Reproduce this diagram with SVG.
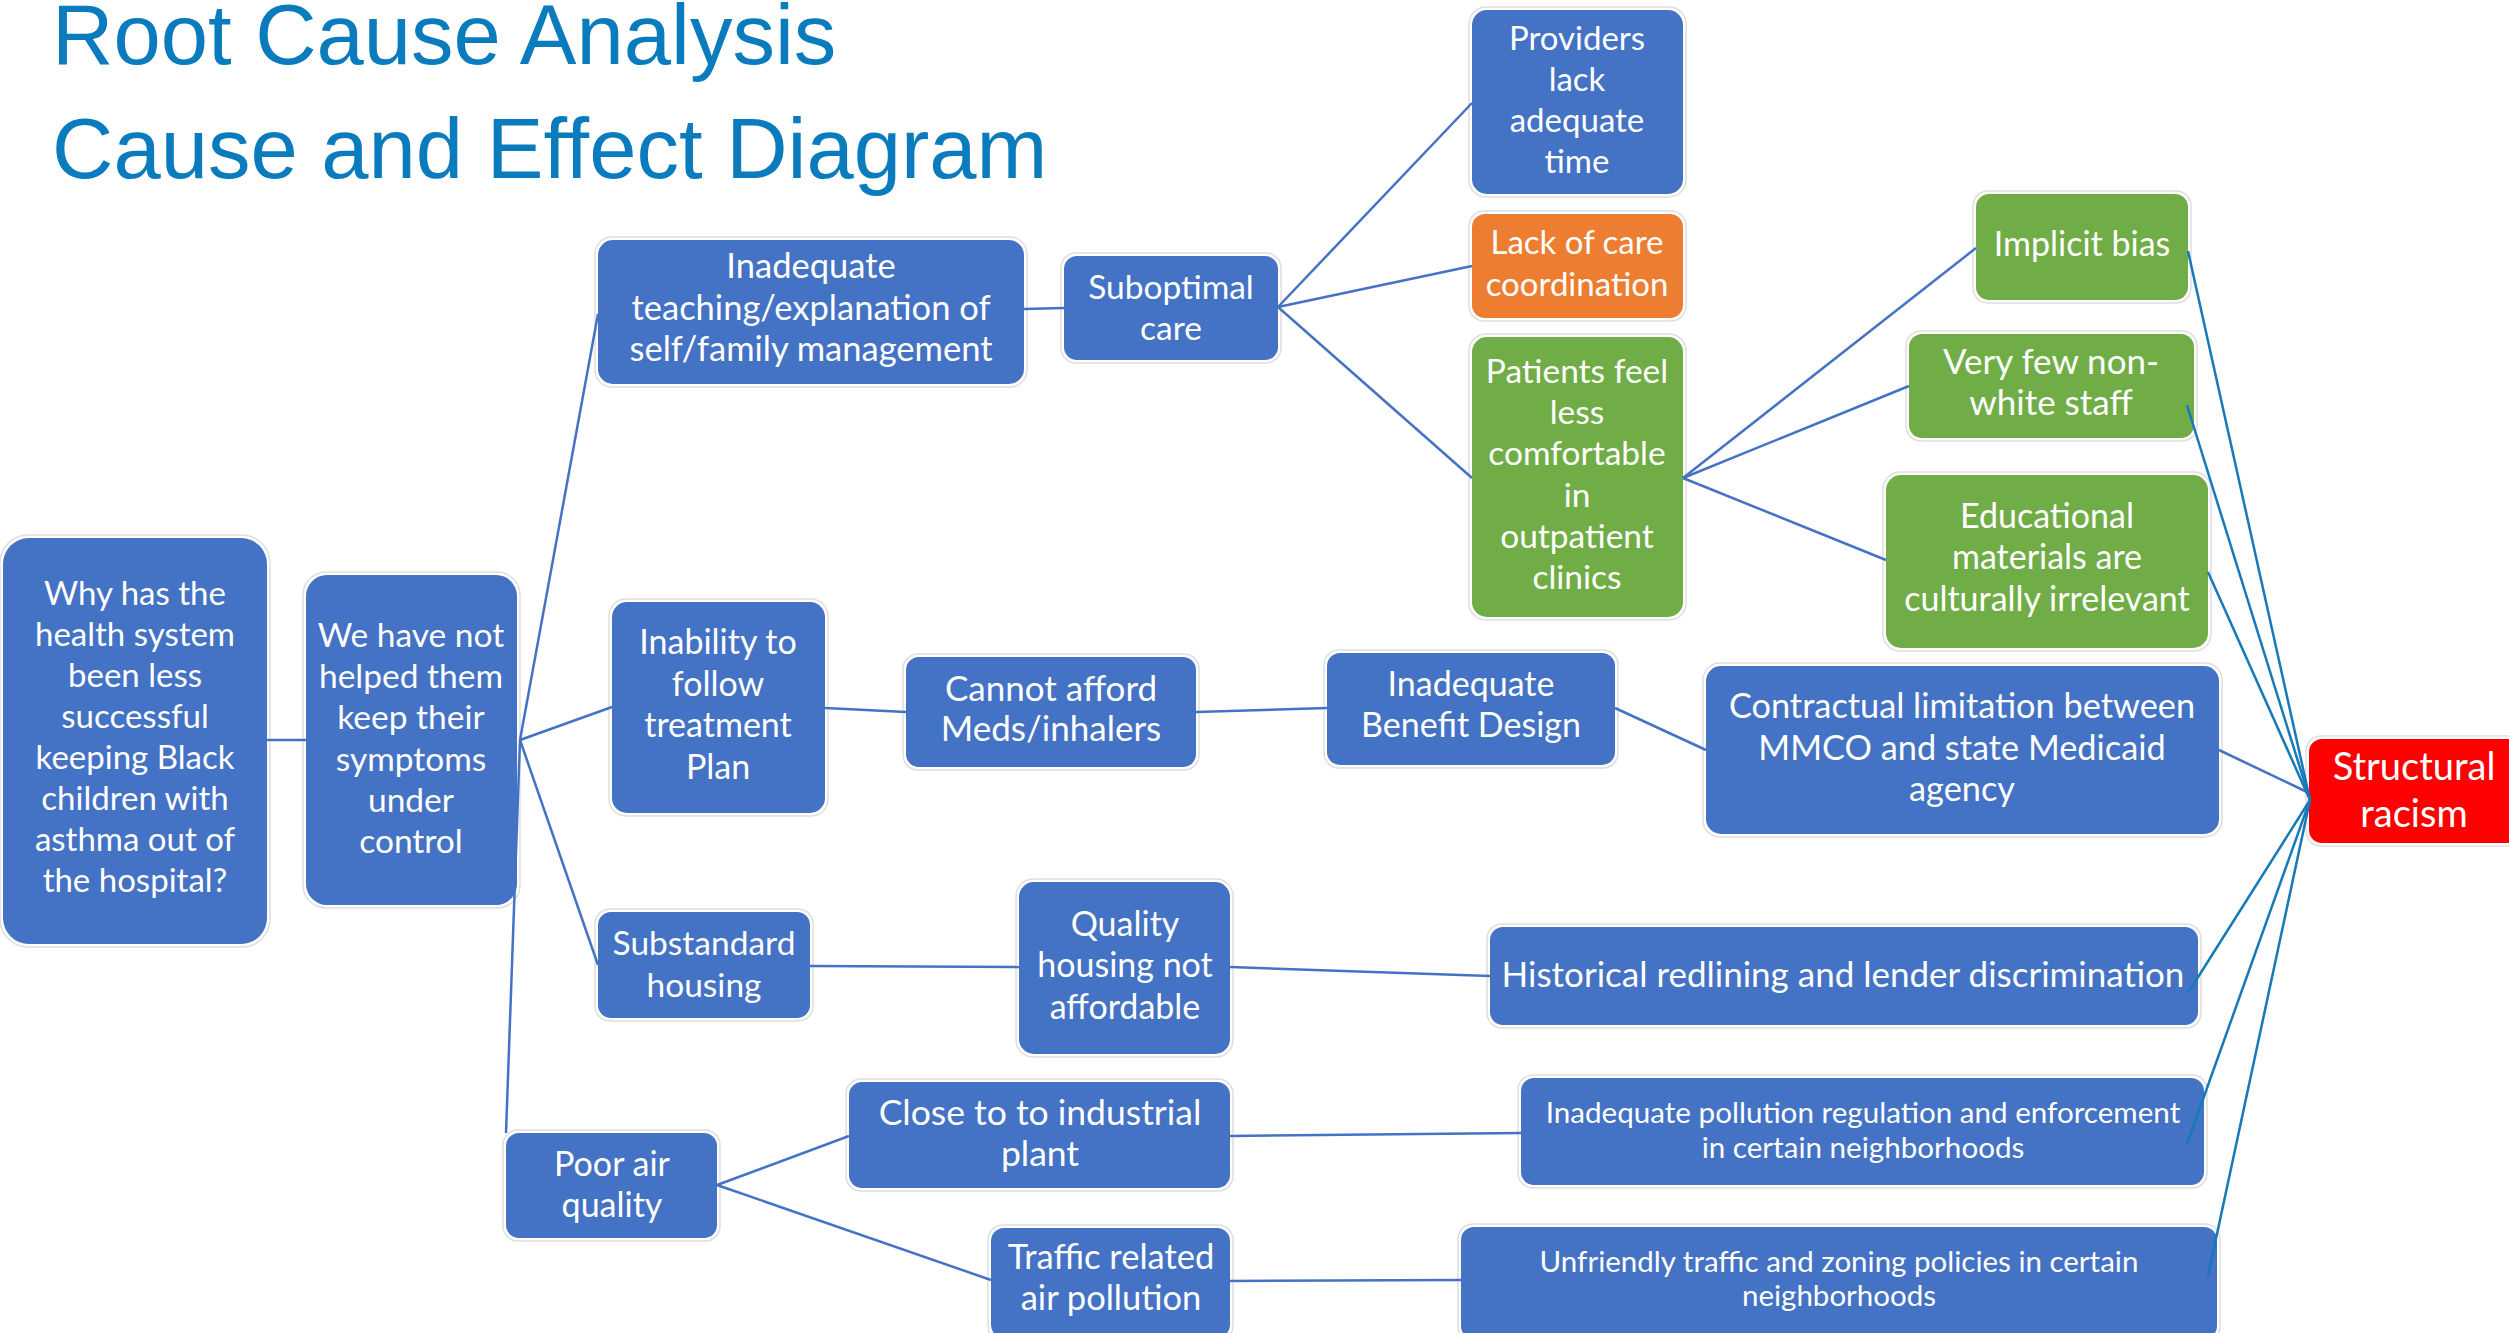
<svg xmlns="http://www.w3.org/2000/svg" width="2509" height="1333" viewBox="0 0 2509 1333">
<style>
.title{font-family:"Liberation Sans",Arial,sans-serif;font-size:85px;fill:#0A7BBD}
.halo{fill:#ffffff;stroke:#dedede;stroke-width:1.5}
.b{fill:#4472C4}
.o{fill:#ED7D31}
.g{fill:#70AD47}
.r{fill:#FF0000}
.t{font-family:Lato,"Open Sans",sans-serif;fill:#ffffff;text-anchor:middle;font-size:34px}
.c{fill:none;stroke:#4472C4;stroke-width:2.5}
.rc{fill:none;stroke:#1679B8;stroke-width:2.5}
</style>
<rect width="2509" height="1333" fill="#ffffff"/>
<text class="title" x="52" y="64">Root Cause Analysis</text>
<text class="title" x="52" y="178">Cause and Effect Diagram</text>

<g id="nodes">
<g id="n-why">
<rect class="halo" x="0" y="535" width="270" height="412" rx="28"/>
<rect class="b" x="3" y="538" width="264" height="406" rx="26"/>
<text class="t" style="font-size:33px">
<tspan x="135" y="605">Why has the</tspan><tspan x="135" y="646">health system</tspan><tspan x="135" y="687">been less</tspan><tspan x="135" y="728">successful</tspan><tspan x="135" y="769">keeping Black</tspan><tspan x="135" y="810">children with</tspan><tspan x="135" y="851">asthma out of</tspan><tspan x="135" y="892">the hospital?</tspan>
</text>
</g>
<g id="n-wehave">
<rect class="halo" x="303" y="572" width="217" height="336" rx="23"/>
<rect class="b" x="306" y="575" width="211" height="330" rx="21"/>
<text class="t" style="font-size:33.5px">
<tspan x="411" y="647">We have not</tspan><tspan x="411" y="688">helped them</tspan><tspan x="411" y="729">keep their</tspan><tspan x="411" y="771">symptoms</tspan><tspan x="411" y="812">under</tspan><tspan x="411" y="853">control</tspan>
</text>
</g>
<g id="n-teach">
<rect class="halo" x="595" y="237" width="432" height="150" rx="17"/>
<rect class="b" x="598" y="240" width="426" height="144" rx="15"/>
<text class="t" style="font-size:34.5px">
<tspan x="811" y="278">Inadequate</tspan><tspan x="811" y="320">teaching/explanation of</tspan><tspan x="811" y="361">self/family management</tspan>
</text>
</g>
<g id="n-subopt">
<rect class="halo" x="1061" y="253" width="220" height="110" rx="15"/>
<rect class="b" x="1064" y="256" width="214" height="104" rx="13"/>
<text class="t" style="font-size:33.5px">
<tspan x="1171" y="299">Suboptimal</tspan><tspan x="1171" y="340">care</tspan>
</text>
</g>
<g id="n-providers">
<rect class="halo" x="1469" y="7" width="217" height="190" rx="17"/>
<rect class="b" x="1472" y="10" width="211" height="184" rx="15"/>
<text class="t" style="font-size:33px">
<tspan x="1577" y="50">Providers</tspan><tspan x="1577" y="91">lack</tspan><tspan x="1577" y="132">adequate</tspan><tspan x="1577" y="173">time</tspan>
</text>
</g>
<g id="n-lackcare">
<rect class="halo" x="1469" y="211" width="217" height="110" rx="15"/>
<rect class="o" x="1472" y="214" width="211" height="104" rx="13"/>
<text class="t" style="font-size:33px">
<tspan x="1577" y="254">Lack of care</tspan><tspan x="1577" y="296">coordination</tspan>
</text>
</g>
<g id="n-patients">
<rect class="halo" x="1469" y="334" width="217" height="286" rx="17"/>
<rect class="g" x="1472" y="337" width="211" height="280" rx="15"/>
<text class="t" style="font-size:33.5px">
<tspan x="1577" y="383">Patients feel</tspan><tspan x="1577" y="424">less</tspan><tspan x="1577" y="465">comfortable</tspan><tspan x="1577" y="507">in</tspan><tspan x="1577" y="548">outpatient</tspan><tspan x="1577" y="589">clinics</tspan>
</text>
</g>
<g id="n-implicit">
<rect class="halo" x="1973" y="191" width="218" height="112" rx="15"/>
<rect class="g" x="1976" y="194" width="212" height="106" rx="13"/>
<text class="t" style="font-size:34px"><tspan x="2082" y="256">Implicit bias</tspan></text>
</g>
<g id="n-veryfew">
<rect class="halo" x="1906" y="331" width="291" height="110" rx="15"/>
<rect class="g" x="1909" y="334" width="285" height="104" rx="13"/>
<text class="t" style="font-size:35px">
<tspan x="2051" y="374">Very few non-</tspan><tspan x="2051" y="415">white staff</tspan>
</text>
</g>
<g id="n-educ">
<rect class="halo" x="1883" y="472" width="328" height="179" rx="17"/>
<rect class="g" x="1886" y="475" width="322" height="173" rx="15"/>
<text class="t" style="font-size:34px">
<tspan x="2047" y="528">Educational</tspan><tspan x="2047" y="569">materials are</tspan><tspan x="2047" y="611">culturally irrelevant</tspan>
</text>
</g>
<g id="n-contract">
<rect class="halo" x="1703" y="663" width="519" height="174" rx="17"/>
<rect class="b" x="1706" y="666" width="513" height="168" rx="15"/>
<text class="t" style="font-size:34.3px">
<tspan x="1962" y="718">Contractual limitation between</tspan><tspan x="1962" y="760">MMCO and state Medicaid</tspan><tspan x="1962" y="801">agency</tspan>
</text>
</g>
<g id="n-racism">
<rect class="halo" x="2306" y="736" width="240" height="110" rx="15"/>
<rect class="r" x="2309" y="739" width="234" height="104" rx="13"/>
<text class="t" style="font-size:38px">
<tspan x="2414" y="780">Structural</tspan><tspan x="2414" y="827">racism</tspan>
</text>
</g>
<g id="n-inability">
<rect class="halo" x="609" y="599" width="219" height="217" rx="17"/>
<rect class="b" x="612" y="602" width="213" height="211" rx="15"/>
<text class="t" style="font-size:34px">
<tspan x="718" y="654">Inability to</tspan><tspan x="718" y="696">follow</tspan><tspan x="718" y="737">treatment</tspan><tspan x="718" y="779">Plan</tspan>
</text>
</g>
<g id="n-cannot">
<rect class="halo" x="903" y="654" width="296" height="116" rx="15"/>
<rect class="b" x="906" y="657" width="290" height="110" rx="13"/>
<text class="t" style="font-size:35px">
<tspan x="1051" y="701">Cannot afford</tspan><tspan x="1051" y="741">Meds/inhalers</tspan>
</text>
</g>
<g id="n-benefit">
<rect class="halo" x="1324" y="650" width="294" height="118" rx="15"/>
<rect class="b" x="1327" y="653" width="288" height="112" rx="13"/>
<text class="t" style="font-size:34px">
<tspan x="1471" y="696">Inadequate</tspan><tspan x="1471" y="737">Benefit Design</tspan>
</text>
</g>
<g id="n-substandard">
<rect class="halo" x="595" y="909" width="218" height="112" rx="15"/>
<rect class="b" x="598" y="912" width="212" height="106" rx="13"/>
<text class="t" style="font-size:33.5px">
<tspan x="704" y="955">Substandard</tspan><tspan x="704" y="997">housing</tspan>
</text>
</g>
<g id="n-quality">
<rect class="halo" x="1016" y="879" width="217" height="178" rx="17"/>
<rect class="b" x="1019" y="882" width="211" height="172" rx="15"/>
<text class="t" style="font-size:34px">
<tspan x="1125" y="936">Quality</tspan><tspan x="1125" y="977">housing not</tspan><tspan x="1125" y="1019">affordable</tspan>
</text>
</g>
<g id="n-historical">
<rect class="halo" x="1487" y="924" width="714" height="104" rx="15"/>
<rect class="b" x="1490" y="927" width="708" height="98" rx="13"/>
<text class="t" style="font-size:35px"><tspan x="1843" y="987">Historical redlining and lender discrimination</tspan></text>
</g>
<g id="n-poorair">
<rect class="halo" x="503" y="1130" width="217" height="111" rx="15"/>
<rect class="b" x="506" y="1133" width="211" height="105" rx="13"/>
<text class="t" style="font-size:34px">
<tspan x="612" y="1176">Poor air</tspan><tspan x="612" y="1217">quality</tspan>
</text>
</g>
<g id="n-close">
<rect class="halo" x="846" y="1079" width="387" height="112" rx="15"/>
<rect class="b" x="849" y="1082" width="381" height="106" rx="13"/>
<text class="t" style="font-size:35.5px">
<tspan x="1040" y="1125">Close to to industrial</tspan><tspan x="1040" y="1166">plant</tspan>
</text>
</g>
<g id="n-traffic">
<rect class="halo" x="988" y="1225" width="245" height="116" rx="15"/>
<rect class="b" x="991" y="1228" width="239" height="110" rx="13"/>
<text class="t" style="font-size:34.5px">
<tspan x="1111" y="1269">Traffic related</tspan><tspan x="1111" y="1310">air pollution</tspan>
</text>
</g>
<g id="n-pollution">
<rect class="halo" x="1518" y="1075" width="689" height="113" rx="15"/>
<rect class="b" x="1521" y="1078" width="683" height="107" rx="13"/>
<text class="t" style="font-size:29.6px">
<tspan x="1863" y="1123">Inadequate pollution regulation and enforcement</tspan><tspan x="1863" y="1158">in certain neighborhoods</tspan>
</text>
</g>
<g id="n-unfriendly">
<rect class="halo" x="1458" y="1224" width="762" height="118" rx="15"/>
<rect class="b" x="1461" y="1227" width="756" height="112" rx="13"/>
<text class="t" style="font-size:29.5px">
<tspan x="1839" y="1272">Unfriendly traffic and zoning policies in certain</tspan><tspan x="1839" y="1306">neighborhoods</tspan>
</text>
</g>
</g>

<g id="connectors">
<line class="c" x1="267" y1="740" x2="306" y2="740"/>
<line class="c" x1="520" y1="740" x2="598" y2="314"/>
<line class="c" x1="520" y1="740" x2="612" y2="707"/>
<line class="c" x1="520" y1="740" x2="598" y2="965"/>
<line class="c" x1="520" y1="740" x2="506" y2="1133"/>
<line class="c" x1="1024" y1="309" x2="1064" y2="308"/>
<line class="c" x1="1278" y1="307" x2="1472" y2="103"/>
<line class="c" x1="1278" y1="307" x2="1472" y2="266"/>
<line class="c" x1="1278" y1="307" x2="1472" y2="478"/>
<line class="c" x1="1683" y1="478" x2="1976" y2="248"/>
<line class="c" x1="1683" y1="478" x2="1909" y2="386"/>
<line class="c" x1="1683" y1="478" x2="1886" y2="560"/>
<line class="c" x1="825" y1="708" x2="906" y2="712"/>
<line class="c" x1="1196" y1="712" x2="1327" y2="708"/>
<line class="c" x1="1615" y1="708" x2="1706" y2="750"/>
<line class="c" x1="2219" y1="750" x2="2307" y2="792"/>
<line class="c" x1="810" y1="966" x2="1019" y2="967"/>
<line class="c" x1="1230" y1="967" x2="1490" y2="976"/>
<line class="c" x1="717" y1="1185" x2="849" y2="1136"/>
<line class="c" x1="717" y1="1185" x2="991" y2="1280"/>
<line class="c" x1="1230" y1="1136" x2="1521" y2="1133"/>
<line class="c" x1="1230" y1="1281" x2="1461" y2="1280"/>
<line class="rc" x1="2188" y1="251" x2="2310" y2="800"/>
<line class="rc" x1="2187" y1="405" x2="2310" y2="800"/>
<line class="rc" x1="2208" y1="572" x2="2310" y2="800"/>
<line class="rc" x1="2188" y1="993" x2="2310" y2="800"/>
<line class="rc" x1="2187" y1="1144" x2="2310" y2="800"/>
<line class="rc" x1="2208" y1="1276" x2="2310" y2="800"/>
</g>
</svg>
